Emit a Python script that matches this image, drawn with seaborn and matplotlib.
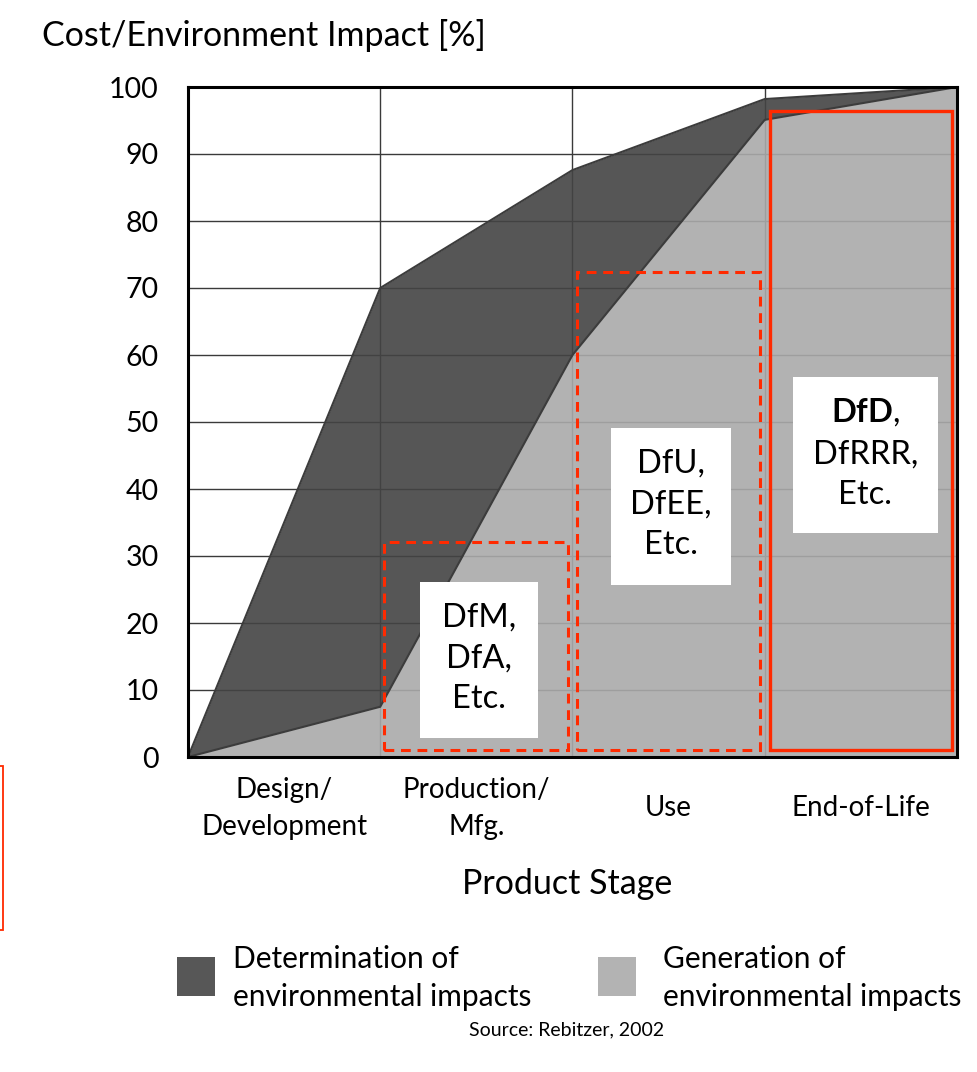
import numpy as np
import pandas as pd
import matplotlib
matplotlib.use("Agg")
import matplotlib.pyplot as plt
from matplotlib.patches import Rectangle
import seaborn as sns

# ---- data ----
stages = ["Design/\nDevelopment", "Production/\nMfg.", "Use", "End-of-Life"]
stage_points = [0, 1, 2, 3, 4]
determination = [0, 70, 87.6, 98.2, 100]
generation = [0, 7.5, 60, 95.1, 100]
y_ticks = [0, 10, 20, 30, 40, 50, 60, 70, 80, 90, 100]

box_labels = ["DfM,\nDfA,\nEtc.", "DfU,\nDfEE,\nEtc.", "$\\mathbf{DfD}$,\nDfRRR,\nEtc."]
box_left = [1.02, 2.026, 3.026]
box_right = [1.974, 2.974, 3.974]
box_top = [32.1, 72.4, 96.4]
box_bottom = [1.0, 1.0, 1.0]

legend_labels = ["Determination of\nenvironmental impacts", "Generation of\nenvironmental impacts"]

df = pd.DataFrame({"stage": stage_points, "determination": determination, "generation": generation})

sns.set_style("white")
plt.rcParams["font.family"] = ["Lato", "DejaVu Sans"]
plt.rcParams["mathtext.fontset"] = "custom"
plt.rcParams["mathtext.bf"] = "Lato:bold"
plt.rcParams["mathtext.rm"] = "Lato"
plt.rcParams["text.color"] = "black"
plt.rcParams["xtick.color"] = "black"
plt.rcParams["ytick.color"] = "black"

W, H = 978, 1072
fig = plt.figure(figsize=(W / 100, H / 100), dpi=100)
L, R, T, B = 188, 957, 87, 757
ax = fig.add_axes([L / W, 1 - B / H, (R - L) / W, (B - T) / H])

dark = "#575757"
light = "#b3b3b3"
dark_fill = "#444444"
light_fill = "#aaaaaa"

# grid first (under semi-transparent fills)
for yv in y_ticks[1:-1]:
    ax.axhline(yv, color="#3a3a3a", lw=1.0, zorder=1)
for xv in stage_points[1:-1]:
    ax.axvline(xv, color="#3a3a3a", lw=1.0, zorder=1)

ax.fill_between(df["stage"], df["generation"], df["determination"], color=dark_fill, alpha=0.9, lw=0, zorder=2)
ax.fill_between(df["stage"], 0, df["generation"], color=light_fill, alpha=0.9, lw=0, zorder=2)
sns.lineplot(data=df, x="stage", y="determination", ax=ax, color="#3c3c3c", lw=1.5, zorder=3)
sns.lineplot(data=df, x="stage", y="generation", ax=ax, color="#3c3c3c", lw=1.5, zorder=3)

red = "#ff2a00"
for i in range(3):
    ls = "-" if i == 2 else (0, (3.2, 2.2))
    lw = 2.4 if i == 2 else 2.2
    ax.add_patch(Rectangle((box_left[i], box_bottom[i]), box_right[i] - box_left[i],
                           box_top[i] - box_bottom[i], fill=False, ec=red, lw=lw,
                           ls=ls, zorder=5))

# white label boxes (data coords)
wb_x0 = [1.208, 2.198, 3.146]
wb_x1 = [1.818, 2.823, 3.901]
wb_y0 = [2.84, 25.7, 33.4]
wb_y1 = [26.1, 49.1, 56.7]
for i in range(3):
    ax.add_patch(Rectangle((wb_x0[i], wb_y0[i]), wb_x1[i] - wb_x0[i], wb_y1[i] - wb_y0[i],
                           fc="white", ec="none", zorder=6))
    ax.text((wb_x0[i] + wb_x1[i]) / 2, (wb_y0[i] + wb_y1[i]) / 2 + 0.3, box_labels[i],
            ha="center", va="center", fontsize=23.5, linespacing=1.45, zorder=7, color="black")

ax.set_xlim(0, 4)
ax.set_ylim(0, 100)
ax.set_yticks(y_ticks)
ax.set_yticklabels([str(v) for v in y_ticks], fontsize=20.5)
ax.set_xticks(stage_points)
ax.set_xticklabels([])
ax.set_xticks([0.5, 1.5, 2.5, 3.5], minor=True)
ax.set_xticklabels(stages, minor=True, fontsize=20, linespacing=1.5)
for lbl in ax.get_xticklabels(minor=True):
    lbl.set_verticalalignment("center")
ax.tick_params(axis="x", which="minor", length=0, pad=37)
ax.tick_params(axis="x", which="major", length=10, width=1.2, direction="out", color="black")
ax.tick_params(axis="y", length=7, width=1.2, direction="out", color="black", pad=14)
ax.set_xlabel("")
ax.set_ylabel("")
for s in ax.spines.values():
    s.set_visible(True)
    s.set_color("black")
    s.set_linewidth(2.2)
    s.set_zorder(8)
ax.grid(False)

fig.text(42 / W, 1 - 35 / H, "Cost/Environment Impact [%]", ha="left", va="center", fontsize=24.5)
fig.text(567 / W, 1 - 884 / H, "Product Stage", ha="center", va="center", fontsize=24.5)

# legend
sq = [(177, dark), (598, light)]
tx = [233, 663]
for (x0, c), t, lab in zip(sq, tx, legend_labels):
    fig.patches.append(Rectangle((x0 / W, 1 - 996 / H), 38 / W, 39 / H, fc=c, ec="none",
                                 transform=fig.transFigure, figure=fig))
    fig.text(t / W, 1 - 978 / H, lab, ha="left", va="center", fontsize=21.5, linespacing=1.45)

fig.text(567 / W, 1 - 1030 / H, "Source: Rebitzer, 2002", ha="center", va="center", fontsize=14)

# partial red frame at left edge
fig.patches.append(Rectangle((-20 / W, 1 - 930 / H), 23 / W, 164 / H, fill=False, ec=red,
                             lw=1.3, transform=fig.transFigure, figure=fig))

fig.savefig("out.png", dpi=100)
